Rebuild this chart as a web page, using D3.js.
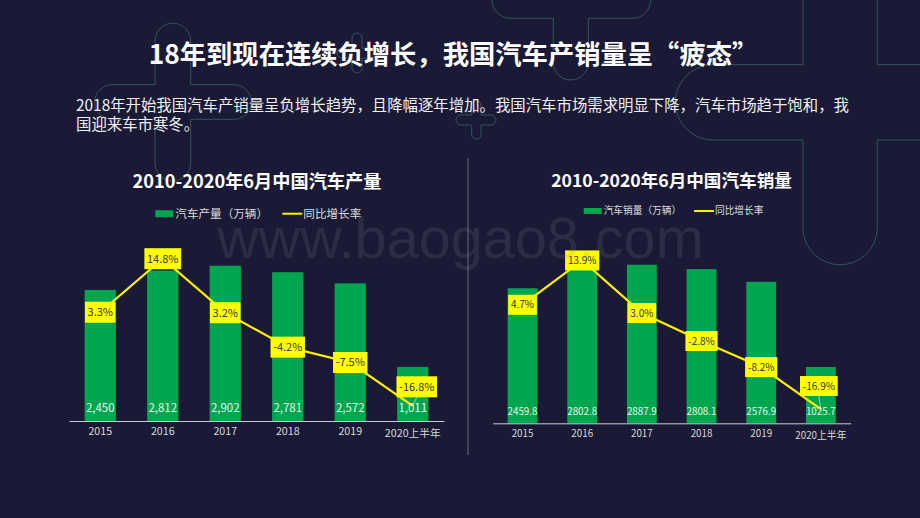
<!DOCTYPE html>
<html lang="zh-CN">
<head>
  <meta charset="UTF-8">
  <title>汽车产销量</title>
  <style>
    html, body { margin: 0; padding: 0; background: #1b1a36; overflow: hidden; }
    svg { display: block; }
    text { font-family: "Noto Sans CJK SC", sans-serif; }
  </style>
</head>
<body>
<svg width="920" height="518"></svg>
<script src="https://d3js.org/d3.v7.min.js"></script>
<script>
const years = ["2015", "2016", "2017", "2018", "2019", "2020上半年"];
const prodValues = [2450, 2812, 2902, 2781, 2572, 1011];
const prodGrowth = [3.3, 14.8, 3.2, -4.2, -7.5, -16.8];
const salesValues = [2459.8, 2802.8, 2887.9, 2808.1, 2576.9, 1025.7];
const salesGrowth = [4.7, 13.9, 3.0, -2.8, -8.2, -16.9];

const svg = d3.select("svg");
svg.append("rect").attr("width", 920).attr("height", 518).attr("fill", "#1b1a36");

// background outlines
const outlines = [
  "M803,0 V64.7 H713 A37.6,37.6 0 0 0 713,140 H803 V229.5 A37.2,37.2 0 0 0 877.3,229.5 V140 H920 M877.3,0 V64.7 H920",
  "M155,41 A17.8,17.8 0 0 1 190.7,41 V84.7 H234 A17.3,17.3 0 0 1 234,119.3 H190.7 V163 A17.8,17.8 0 0 1 155,163 V119.3 H112 A17.3,17.3 0 0 1 112,84.7 H155 Z",
  "M492,0 A18.3,18.3 0 0 0 510,18.3 H553.3 V62.5 A17.5,17.5 0 0 0 588.3,62.5 V18.3 H632 A18.3,18.3 0 0 0 650.7,0",
  "M471.7,105 A4.7,4.7 0 0 1 481,105 V115 H491 A5,5 0 0 1 491,125 H481 V135 A4.7,4.7 0 0 1 471.7,135 V125 H461 A5,5 0 0 1 461,115 H471.7 Z",
  "M352,38 A5,5 0 0 1 362,38 V48 H372 A5,5 0 0 1 372,58 H362 V68 A5,5 0 0 1 352,68 V58 H342 A5,5 0 0 1 342,48 H352 Z"
];
svg.selectAll("path.outline").data(outlines).join("path")
  .attr("class", "outline")
  .attr("d", d => d)
  .attr("fill", "none")
  .attr("stroke", "#34525a")
  .attr("stroke-width", 1);

svg.append("text").attr("x", 453.5).attr("y", 64)
  .attr("text-anchor", "middle").attr("font-size", 26.3).attr("font-weight", 700)
  .attr("fill", "#fff").text("18年到现在连续负增长，我国汽车产销量呈“疲态”");

svg.append("text").attr("x", 76).attr("y", 111)
  .attr("font-size", 15.4).attr("fill", "#f0f0f0")
  .text("2018年开始我国汽车产销量呈负增长趋势，且降幅逐年增加。我国汽车市场需求明显下降，汽车市场趋于饱和，我");
svg.append("text").attr("x", 76).attr("y", 130)
  .attr("font-size", 15.4).attr("fill", "#f0f0f0")
  .text("国迎来车市寒冬。");

svg.append("line").attr("x1", 468).attr("x2", 468).attr("y1", 158).attr("y2", 455)
  .attr("stroke", "#6a6a7c").attr("stroke-width", 1);

function drawChart(c) {
  const g = svg.append("g");
  const x = d3.scaleBand().domain(years).range(c.xRange).paddingInner(0.5).paddingOuter(0.25);
  const y = d3.scaleLinear().domain([0, 3000]).range([c.base, c.barTop]);
  const yLine = d3.scaleLinear().domain([-20, 20]).range(c.lineRange);
  const cx = d => x(d) + x.bandwidth() / 2;

  g.append("text").attr("x", c.titleX).attr("y", c.titleY)
    .attr("text-anchor", "middle").attr("font-size", c.titleSize).attr("font-weight", 700)
    .attr("fill", "#fff").text(c.title);

  // legend
  g.append("rect").attr("x", c.legend.rect).attr("y", c.legend.y - c.legend.h / 2)
    .attr("width", 18).attr("height", c.legend.h).attr("fill", "#00a64f");
  g.append("text").attr("x", c.legend.rect + 20).attr("y", c.legend.y).attr("dy", "0.36em")
    .attr("font-size", c.legend.size).attr("fill", "#dcdcdc").text(c.seriesName);
  g.append("line").attr("x1", c.legend.line).attr("x2", c.legend.line + 20)
    .attr("y1", c.legend.y).attr("y2", c.legend.y)
    .attr("stroke", "#fff200").attr("stroke-width", 2);
  g.append("text").attr("x", c.legend.line + 21).attr("y", c.legend.y).attr("dy", "0.36em")
    .attr("font-size", c.legend.size).attr("fill", "#dcdcdc").text("同比增长率");

  g.selectAll("rect.bar").data(c.values).join("rect")
    .attr("class", "bar")
    .attr("x", (d, i) => x(years[i]))
    .attr("width", x.bandwidth())
    .attr("y", d => y(d))
    .attr("height", d => c.base - y(d))
    .attr("fill", "#00a64f");

  const axis = g.append("g").attr("transform", `translate(0,${c.base})`)
    .call(d3.axisBottom(x).tickSize(0).tickPadding(c.tickPad));
  axis.select(".domain").attr("stroke", "#c9c9d2").attr("stroke-width", 1);
  axis.selectAll("text").attr("font-size", c.tickSize).attr("fill", "#d9d9d9")
    .style("font-family", '"Noto Sans CJK SC", sans-serif')
    .attr("dy", (d, i) => i === 5 ? "1.05em" : "0.85em");

  const line = d3.line().x((d, i) => cx(years[i])).y(d => yLine(d));
  g.append("path").datum(c.growth)
    .attr("d", line).attr("fill", "none")
    .attr("stroke", "#fff200").attr("stroke-width", 2.2);

  g.selectAll("text.val").data(c.values).join("text")
    .attr("class", "val")
    .attr("x", (d, i) => cx(years[i]))
    .attr("y", c.valY).attr("dy", "0.36em")
    .attr("text-anchor", "middle")
    .attr("font-size", c.valSize).attr("fill", "#e6f6ea")
    .text(c.valFormat);

  // leader from the last label down to its point
  const last = c.growth.length - 1;
  g.append("line")
    .attr("x1", cx(years[last]) + c.lastDx).attr("y1", yLine(c.growth[last]) + c.lastDy)
    .attr("x2", cx(years[last])).attr("y2", yLine(c.growth[last]))
    .attr("stroke", "#cfeeda").attr("stroke-width", 0.7);

  const labels = g.selectAll("g.lab").data(c.growth).join("g")
    .attr("class", "lab")
    .attr("transform", (d, i) => {
      const dx = i === last ? c.lastDx : 0, dy = i === last ? c.lastDy - c.labH / 2 : 0;
      return `translate(${cx(years[i]) + dx},${yLine(d) + dy})`;
    });
  const labText = labels.append("text")
    .attr("text-anchor", "middle").attr("dy", "0.36em")
    .attr("font-size", c.labSize).attr("fill", "#333")
    .text(d => d.toFixed(1) + "%");
  labText.each(function() {
    const w = this.getComputedTextLength() + c.labPad * 2;
    d3.select(this.parentNode).insert("rect", "text")
      .attr("x", -w / 2).attr("y", -c.labH / 2)
      .attr("width", w).attr("height", c.labH)
      .attr("fill", "#ffff00");
  });
}

drawChart({
  title: "2010-2020年6月中国汽车产量", seriesName: "汽车产量（万辆）",
  values: prodValues, growth: prodGrowth, valFormat: d3.format(","),
  xRange: [69, 444], base: 421, barTop: 260.5, lineRange: [420.7, 234.5],
  titleX: 257, titleY: 188, titleSize: 18.2,
  legend: { rect: 155.3, line: 282.3, y: 213.7, h: 7, size: 11.6 },
  tickPad: 5, tickSize: 10.7, valY: 407.7, valSize: 11.5,
  labSize: 11, labH: 21, labPad: 2.6, lastDx: 4, lastDy: -8.5
});

drawChart({
  title: "2010-2020年6月中国汽车销量", seriesName: "汽车销量（万辆）",
  values: salesValues, growth: salesGrowth, valFormat: d3.format(".1f"),
  xRange: [492.7, 850.7], base: 423.3, barTop: 258.6, lineRange: [424, 231],
  titleX: 671.5, titleY: 187, titleSize: 17.6,
  legend: { rect: 583.7, line: 694, y: 211, h: 6, size: 9.7 },
  tickPad: 5, tickSize: 9.8, valY: 411, valSize: 9.8,
  labSize: 10, labH: 20, labPad: 2.8, lastDx: -2, lastDy: -13
});

svg.append("text").attr("x", 217).attr("y", 258)
  .attr("font-size", 57.6).style("font-family", '"Liberation Sans", sans-serif')
  .attr("fill", "#888894").attr("fill-opacity", 0.17)
  .text("www.baogao8.com");
</script>
</body>
</html>
